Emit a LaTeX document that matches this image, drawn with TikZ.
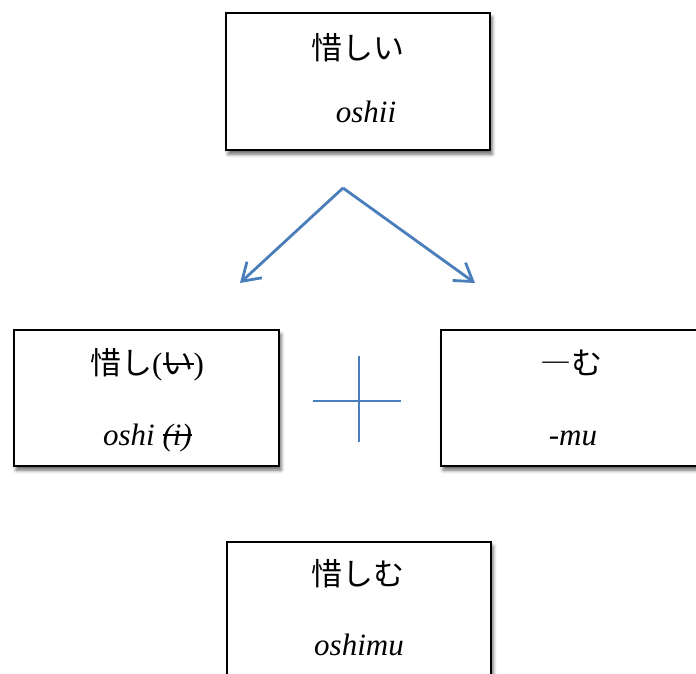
\documentclass[tikz,border=0pt]{standalone}
\usepackage{fontspec}
\setmainfont{Liberation Serif}
\newfontfamily\jp{Noto Sans CJK JP}
\usetikzlibrary{arrows.meta,shadows.blur}
\definecolor{linkblue}{HTML}{4A7EBB}
% strike a piece of text through with a thin rule
\newcommand\strk[1]{\leavevmode\setbox0\hbox{#1}\rlap{\rule[0.3em]{\wd0}{0.06em}}\box0}
\tikzset{
  wordbox/.style={draw=black, line width=1.8pt, fill=white, inner sep=0pt,
    blur shadow={shadow xshift=2pt, shadow yshift=-4pt, shadow blur radius=3.5pt, shadow opacity=60}},
  word/.style={inner sep=0pt, anchor=base, font=\fontsize{31}{37}\selectfont},
  link/.style={draw=linkblue, line width=2.8pt, -{Straight Barb[length=17pt,width=22pt,line width=2.8pt]}},
  plusbar/.style={draw=linkblue, line width=2.2pt}
}
\begin{document}
\begin{tikzpicture}[x=1pt,y=-1pt]
  \useasboundingbox (0,0) rectangle (696,673);
  \clip (0,0) rectangle (696,673);

  % boxes
  \node[wordbox, minimum width=264pt, minimum height=137pt] (top) at (358,81.5) {};
  \node[wordbox, minimum width=265pt, minimum height=136pt] (left) at (146.5,398) {};
  \node[wordbox, minimum width=265pt, minimum height=136pt] (right) at (573.5,398) {};
  \node[wordbox, minimum width=264pt, minimum height=140pt] (bottom) at (359,612) {};

  % words
  \node[word] (topjp) at (358,59) {\jp 惜しい};
  \node[word] (toprm) at (366,122) {\itshape oshii};
  \node[word] (leftjp) at (147,374) {{\jp 惜し}(\strk{\jp い})};
  \node[word] (leftrm) at (147.5,445) {\itshape oshi \strk{(i)}};
  \node[word] (rightjp) at (571,374) {\jp ―む};
  \node[word] (rightrm) at (573,445) {\itshape -mu};
  \node[word] (botjp) at (358,585) {\jp 惜しむ};
  \node[word] (botrm) at (359,655) {\itshape oshimu};

  % split arrows
  \coordinate (apex) at (343,188);
  \coordinate (lefttip) at (240,283);
  \coordinate (righttip) at (475,283);
  \draw[link] (apex) -- (lefttip);
  \draw[link] (apex) -- (righttip);

  % plus sign
  \coordinate (pw) at (313,401);
  \coordinate (pe) at (401,401);
  \coordinate (pn) at (359,356);
  \coordinate (ps) at (359,442);
  \draw[plusbar] (pw) -- (pe);
  \draw[plusbar] (pn) -- (ps);
\end{tikzpicture}
\end{document}
